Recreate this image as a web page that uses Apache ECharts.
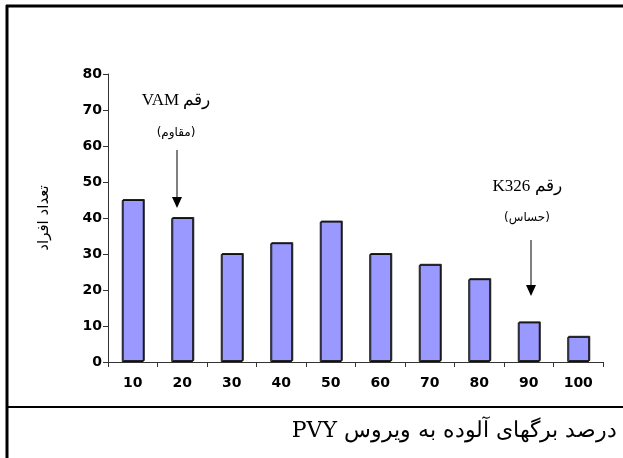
<!DOCTYPE html>
<html>
<head>
<meta charset="utf-8">
<script src="https://cdn.jsdelivr.net/npm/echarts@6/dist/echarts.min.js"></script>
<style>
  html, body { margin: 0; padding: 0; background: #fff; }
  #chart { width: 623px; height: 458px; }
</style>
</head>
<body>
<div id="chart"></div>
<script>
// --- DATA ---
const categories = ['10', '20', '30', '40', '50', '60', '70', '80', '90', '100'];
const counts = [45, 40, 30, 33, 39, 30, 27, 23, 11, 7];
const yTicks = { min: 0, max: 80, interval: 10 };

const yAxisName = 'تعداد افراد';
// canvas lays text out left-to-right, so latin parts come first to sit on the left
const xAxisName = 'PVY درصد برگهای آلوده به ویروس';
const noteResistant = ['VAM رقم', '(مقاوم)'];
const noteSensitive = ['K326 رقم', '(حساس)'];

const chart = echarts.init(document.getElementById('chart'));

// small helper for the arrow annotations
const arrow = (x, y1, y2) => ([
    { type: 'line', shape: { x1: x, y1: y1, x2: x, y2: y2 - 8 }, style: { stroke: '#000', lineWidth: 1 } },
    { type: 'polygon', shape: { points: [[x - 5, y2 - 11], [x + 5, y2 - 11], [x, y2]] }, style: { fill: '#000' } }
]);

const option = {
    animation: false,
    grid: { left: 108, right: 20, top: 74, bottom: 96 },
    xAxis: {
        type: 'category',
        data: categories,
        axisLine: { lineStyle: { color: '#333', width: 1 } },
        axisTick: { show: true, length: 5, lineStyle: { color: '#333' } },
        axisLabel: { color: '#000', fontFamily: 'DejaVu Sans', fontWeight: 'bold', fontSize: 14, margin: 14 }
    },
    yAxis: {
        type: 'value',
        min: yTicks.min, max: yTicks.max, interval: yTicks.interval,
        name: yAxisName,
        nameLocation: 'middle',
        nameGap: 56,
        nameTextStyle: { color: '#000', fontFamily: 'DejaVu Sans', fontSize: 15 },
        axisLine: { show: true, lineStyle: { color: '#333', width: 1 } },
        axisTick: { show: true, length: 5, lineStyle: { color: '#333' } },
        splitLine: { show: false },
        axisLabel: { color: '#000', fontFamily: 'DejaVu Sans', fontWeight: 'bold', fontSize: 14, margin: 6 }
    },
    series: [{
        type: 'bar',
        data: counts,
        barWidth: 22,
        itemStyle: {
            color: '#9999ff',
            borderColor: '#111',
            borderWidth: 1,
            shadowColor: '#222',
            shadowOffsetX: 1,
            shadowOffsetY: -1,
            shadowBlur: 0
        }
    }],
    graphic: [
        // frame lines
        { type: 'line', shape: { x1: 6, y1: 6, x2: 623, y2: 6 }, style: { stroke: '#000', lineWidth: 3 } },
        { type: 'line', shape: { x1: 7, y1: 5, x2: 7, y2: 458 }, style: { stroke: '#000', lineWidth: 3 } },
        { type: 'line', shape: { x1: 6, y1: 407, x2: 623, y2: 407 }, style: { stroke: '#000', lineWidth: 2 } },
        // x axis title
        { type: 'text', right: 6, top: 420, style: { text: xAxisName, fill: '#000', font: '22px "DejaVu Serif", serif' } },
        // annotations
        { type: 'text', x: 176, y: 101, style: { text: noteResistant[0], fill: '#000', font: '17px "Liberation Serif", serif', textAlign: 'center', textVerticalAlign: 'middle' } },
        { type: 'text', x: 176, y: 133, style: { text: noteResistant[1], fill: '#000', font: '12px "DejaVu Sans", sans-serif', textAlign: 'center', textVerticalAlign: 'middle' } },
        ...arrow(177, 150, 208),
        { type: 'text', x: 527, y: 187, style: { text: noteSensitive[0], fill: '#000', font: '17px "Liberation Serif", serif', textAlign: 'center', textVerticalAlign: 'middle' } },
        { type: 'text', x: 527, y: 218, style: { text: noteSensitive[1], fill: '#000', font: '12px "DejaVu Sans", sans-serif', textAlign: 'center', textVerticalAlign: 'middle' } },
        ...arrow(531, 240, 296)
    ]
};
chart.setOption(option);
</script>
</body>
</html>
